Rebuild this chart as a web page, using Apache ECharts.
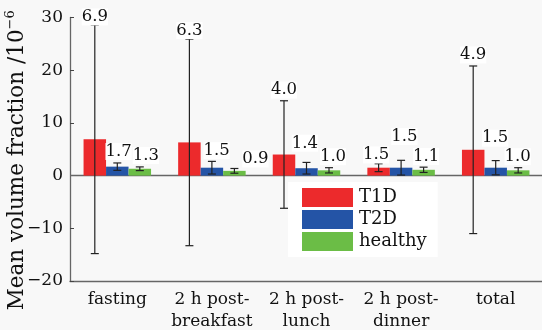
<!DOCTYPE html>
<html><head><meta charset="utf-8">
<script src="https://cdn.jsdelivr.net/npm/echarts@6/dist/echarts.min.js"></script>
<style>html,body{margin:0;padding:0;background:#f8f8f8}#c{width:542px;height:330px}</style>
</head><body><div id="c"></div>
<script>
var categories = ['fasting', '2 h post-\nbreakfast', '2 h post-\nlunch', '2 h post-\ndinner', 'total'];
var seriesNames = ['T1D', 'T2D', 'healthy'];
var t1d = [6.9, 6.3, 4.0, 1.5, 4.9];
var t2d = [1.7, 1.5, 1.4, 1.5, 1.5];
var healthy = [1.3, 0.9, 1.0, 1.1, 1.0];
var t1dErr = [21.7, 19.6, 10.2, 0.75, 15.9];
var t2dErr = [0.7, 1.2, 1.1, 1.4, 1.35];
var healthyErr = [0.35, 0.45, 0.5, 0.5, 0.5];
var yTicks = {min: -20, max: 30, interval: 10};

// label layout nudges (pixels, relative to error-bar top)
var labelNudge = [
  [[0,-8],[0,-8.5],[0,-10.7],[-2.5,-8.8],[0,-11]],
  [[1.3,-11.4],[4.7,-10.7],[-1.7,-19.2],[3.3,-23.7],[-0.5,-22.4]],
  [[6,-11.4],[21,-9.5],[4,-11],[2.5,-10.6],[-0.5,-11]]
];
var colors = ['#ec2a2c', '#2454a6', '#6bbd46'];
var FONT = 'DejaVu Serif';
var BW = 22.5;

var means = [t1d, t2d, healthy];
var errs = [t1dErr, t2dErr, healthyErr];

var chart = echarts.init(document.getElementById('c'));
var series = [];
means.forEach(function (vals, s) {
  series.push({
    name: seriesNames[s], type: 'bar', data: vals, barWidth: BW, barGap: '0%',
    itemStyle: {color: colors[s]}, z: 2,
    markLine: s === 0 ? {silent: true, symbol: 'none', label: {show: false},
      lineStyle: {color: '#666', width: 1.3, type: 'solid'}, data: [{yAxis: 0}], z: 1} : undefined
  });
});
means.forEach(function (vals, s) {
  var data = vals.map(function (v, i) { return [i, v, errs[s][i]]; });
  series.push({
    type: 'custom', name: seriesNames[s] + ' err', data: data, z: 5, silent: true,
    encode: {x: 0, y: 1},
    renderItem: function (params, api) {
      var i = api.value(0), m = api.value(1), e = api.value(2);
      var off = (s - 1) * BW;
      var top = api.coord([i, m + e]), bot = api.coord([i, m - e]);
      var x = top[0] + off;
      var nud = labelNudge[s][params.dataIndex];
      return {type: 'group', children: [
        {type: 'line', shape: {x1: x, y1: top[1], x2: x, y2: bot[1]}, style: {stroke: '#222', lineWidth: 1.2}},
        {type: 'line', shape: {x1: x - 4, y1: top[1], x2: x + 4, y2: top[1]}, style: {stroke: '#222', lineWidth: 1.2}},
        {type: 'line', shape: {x1: x - 4, y1: bot[1], x2: x + 4, y2: bot[1]}, style: {stroke: '#222', lineWidth: 1.2}},
        {type: 'text', z2: 10, x: x + nud[0], y: top[1] + nud[1], style: {
          text: m.toFixed(1), fontFamily: FONT, fontSize: 16.5, fill: '#111',
          align: 'center', verticalAlign: 'middle', backgroundColor: '#fff', padding: [0, 0]}}
      ]};
    }
  });
});

chart.setOption({
  backgroundColor: '#f8f8f8',
  animation: false,
  grid: {left: 70, right: -1, top: 17.5, bottom: 49, outerBoundsMode: 'none', containLabel: false},
  legend: {
    data: seriesNames, orient: 'vertical', left: 288, top: 182,
    backgroundColor: '#fff', padding: [6, 11, 6, 14], itemWidth: 51, itemHeight: 19, itemGap: 3,
    icon: 'rect', textStyle: {fontFamily: FONT, fontSize: 18, color: '#111', padding: [0, 0, 0, 1]},
    itemStyle: {borderWidth: 0}
  },
  xAxis: {
    type: 'category', data: categories,
    axisLine: {onZero: false, lineStyle: {color: '#666', width: 1.3}},
    axisTick: {inside: true, alignWithLabel: true, length: 5, lineStyle: {color: '#444'}},
    axisLabel: {fontFamily: FONT, fontSize: 17, color: '#111', margin: 8, lineHeight: 22, interval: 0}
  },
  yAxis: {
    type: 'value', min: yTicks.min, max: yTicks.max, interval: yTicks.interval,
    splitLine: {show: false},
    axisLine: {show: true, lineStyle: {color: '#666', width: 1.3}},
    axisTick: {show: true, inside: true, length: 4, lineStyle: {color: '#444'}},
    axisLabel: {fontFamily: FONT, fontSize: 17, color: '#111', margin: 7,
      formatter: function (v) { return String(v).replace('-', '\u2212'); }},
    name: '{a|Mean volume fraction /10}{b|\u22126}',
    nameLocation: 'middle', nameRotate: 90, nameGap: 42, nameMoveOverlap: false,
    nameTextStyle: {padding: [0, 22, 0, 0], rich: {
      a: {fontFamily: FONT, fontSize: 21.5, color: '#111', lineHeight: 24, verticalAlign: 'bottom'},
      b: {fontFamily: FONT, fontSize: 13, color: '#111', lineHeight: 24, verticalAlign: 'top'}
    }}
  },
  series: series
});
</script></body></html>
